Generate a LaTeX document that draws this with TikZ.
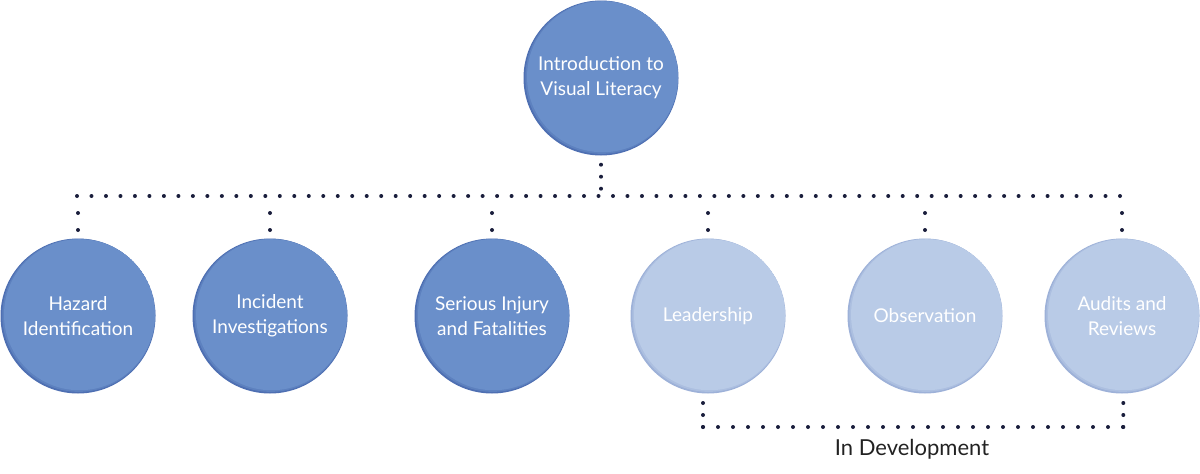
\documentclass[tikz,border=0pt]{standalone}
\usepackage{fontspec}
\setmainfont{Lato}
\definecolor{mainblue}{HTML}{6A8FCA}
\definecolor{rimblue}{HTML}{4E6FB2}
\definecolor{lightblue}{HTML}{B9CBE7}
\definecolor{lightrim}{HTML}{9DB1D8}
\definecolor{dotcol}{HTML}{1A1E3C}
\definecolor{labelcol}{HTML}{222222}
\tikzset{
  rimmed/.style 2 args={fill=#2,
    path picture={
      \fill[#1!55!#2] ([shift={(0.77pt,0.64pt)}]path picture bounding box.center) circle (76.5pt);
      \fill[#1] ([shift={(1.53pt,1.29pt)}]path picture bounding box.center) circle (75.5pt);
    }},
  topic/.style={circle, minimum size=155pt, inner sep=0pt, align=center,
    text=white, font=\fontsize{19}{25}\selectfont, rimmed={mainblue}{rimblue}},
  future/.style={circle, minimum size=155pt, inner sep=0pt, align=center,
    text=white, font=\fontsize{19}{25}\selectfont, rimmed={lightblue}{lightrim}},
  dotline/.style={draw=dotcol, line width=4pt, line cap=round, dash pattern=on 0pt off 14.486pt},
  devline/.style={draw=dotcol, line width=4pt, line cap=round, dash pattern=on 0pt off 15pt},
  dropline/.style={draw=dotcol, line width=4pt, line cap=round, dash pattern=on 0pt off 17pt},
  botline/.style={draw=dotcol, line width=4pt, line cap=round, dash pattern=on 0pt off 12pt},
}
\begin{document}
\begin{tikzpicture}[x=1pt, y=-1pt]
\useasboundingbox (0,0) rectangle (1200,474);
\node[topic] (top) at (601,78) {Introduction to\\Visual Literacy};
\node[topic] (haz) at (78,316) {Hazard\\Identification};
\node[topic] (inc) at (270,316) {Incident\\Investigations};
\node[topic] (sif) at (492,316) {Serious Injury\\and Fatalities};
\node[future] (lead) at (708,316) {Leadership};
\node[future] (obs) at (925,316) {Observation};
\node[future] (aud) at (1122,316) {Audits and\\Reviews};
\coordinate (hub) at (600,196);
\coordinate (busL) at (77,196);
\coordinate (busR) at (1120.5,196);
\coordinate (devL) at (703,427);
\coordinate (devR) at (1123.3,427);
\node[text=labelcol, font=\fontsize{22}{24}\selectfont] (dev) at (912,449) {In Development};
% top connectors
\draw[botline] ([yshift=-9pt]top.south) -- ++(0,24);
\draw[dotline] (busL) -- (busR);
\foreach \c in {haz, inc, sif, lead, obs, aud} {
  \draw[dropline] ([yshift=-17pt]\c.north |- hub) -- ([yshift=7pt]\c.north);
}
% development bracket
\draw[botline] (devL) -- ([yshift=-9pt]lead.south -| devL);
\draw[botline] (devR) -- ([yshift=-9pt]aud.south -| devR);
\draw[devline] (devL) -- (devR);
\end{tikzpicture}
\end{document}
